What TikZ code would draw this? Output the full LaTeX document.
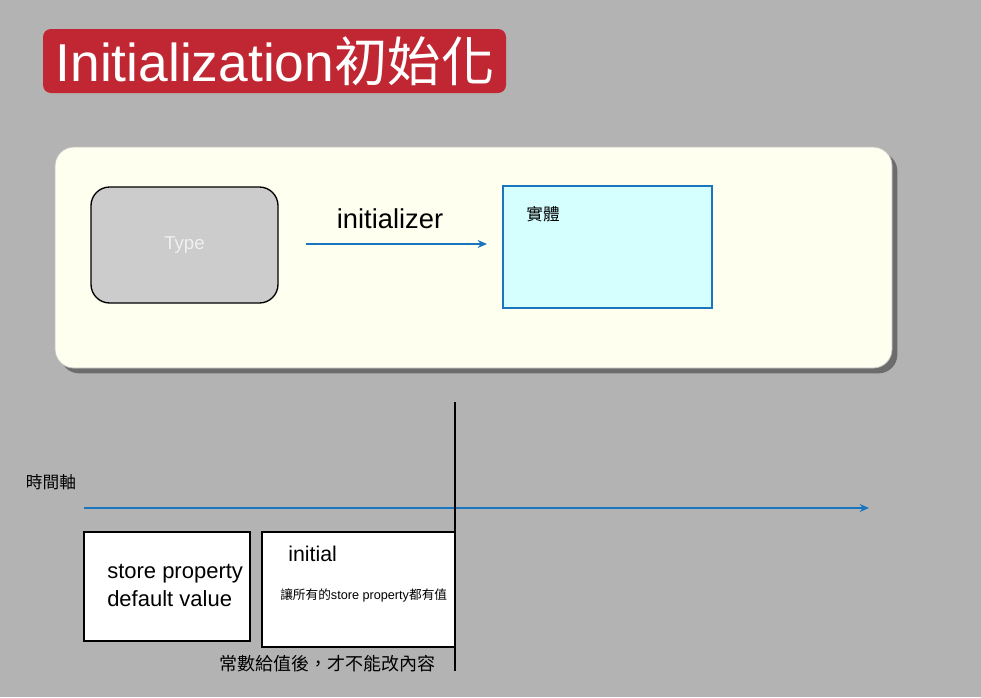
\documentclass[tikz,border=0pt]{standalone}
\usepackage{fontspec}
\setmainfont{Liberation Sans}
\newfontfamily\cjk{Noto Sans CJK TC}
\usetikzlibrary{shadows,arrows.meta}
\definecolor{bggray}{RGB}{179,179,179}
\definecolor{titlered}{RGB}{192,39,51}
\definecolor{panelcream}{RGB}{255,255,240}
\definecolor{typegray}{RGB}{204,204,204}
\definecolor{arrowblue}{RGB}{24,117,190}
\definecolor{instcyan}{RGB}{213,255,255}
\tikzset{
  bluearrow/.style={draw=arrowblue, line width=1.1pt, -{Stealth[length=7pt,width=6pt]}},
  whitebox/.style={draw=black, line width=1pt, fill=white},
}
\begin{document}
\begin{tikzpicture}[x=0.75pt,y=-0.75pt]
\useasboundingbox (0,0) rectangle (981,697);
\fill[bggray] (0,0) rectangle (981,697);
% title
\node (titlebox) [fill=titlered, rounded corners=6pt, minimum width=463*0.75pt, minimum height=64*0.75pt, inner sep=0pt] at (274.5,61) {};
\node (title) [text=white, font=\fontsize{40}{44}\selectfont, inner sep=0pt, anchor=center] at (275,61) {Initialization{\cjk 初始化}};
% panel
\node (panel) [fill=panelcream, draw=black!25, line width=0.6pt, rounded corners=14pt, minimum width=837*0.75pt, minimum height=221*0.75pt, inner sep=0pt, drop shadow={shadow xshift=4pt, shadow yshift=-4pt, opacity=0.5, fill=black!85}] at (473.5,257.5) {};
% Type
\node (type) [fill=typegray, draw=black, line width=1pt, rounded corners=14pt, minimum width=187*0.75pt, minimum height=116*0.75pt, inner sep=0pt, text=white!94!black, font=\fontsize{14}{16}\selectfont] at (184.5,245) {Type};
% instance
\node (inst) [fill=instcyan, draw=arrowblue, line width=1pt, minimum width=209*0.75pt, minimum height=122*0.75pt, inner sep=0pt] at (607.5,247) {};
\node (instlabel) [font=\cjk\fontsize{12.5}{14}\selectfont, inner sep=0pt] at (543,214) {實體};
% initializer arrow
\coordinate (ia) at (306,244);
\coordinate (ib) at (487,244);
\draw[bluearrow] (ia) -- (ib);
\node (initlabel) [font=\fontsize{20.5}{22}\selectfont, inner sep=0pt] at (390,219) {initializer};
% timeline
\node (timelabel) [font=\cjk\fontsize{12.5}{14}\selectfont, inner sep=0pt] at (51,482) {時間軸};
\coordinate (ta) at (84,508);
\coordinate (tb) at (869,508);
\draw[bluearrow] (ta) -- (tb);
% boxes
\node (box1) [whitebox, minimum width=166*0.75pt, minimum height=109*0.75pt, inner sep=0pt] at (167,586.5) {};
\node (box1text) [font=\fontsize{16.5}{21}\selectfont, align=left, anchor=north west, inner sep=0pt] at (107,564) {store property\\default value};
\node (box2) [whitebox, minimum width=193*0.75pt, minimum height=115*0.75pt, inner sep=0pt] at (358.5,589.5) {};
\node (box2title) [font=\fontsize{16}{18}\selectfont, anchor=west, inner sep=0pt] at (288,554) {initial};
\node (box2text) [font=\fontsize{9.5}{11}\selectfont, anchor=west, inner sep=0pt] at (280,595) {{\cjk 讓所有的}store property{\cjk 都有值}};
% vertical line
\coordinate (va) at (455,402);
\coordinate (vb) at (455,671);
\draw[black, line width=1.3pt] (va) -- (vb);
\node (note) [font=\cjk\fontsize{13.5}{15}\selectfont, inner sep=0pt] at (327.5,664) {常數給值後，才不能改內容};
\end{tikzpicture}
\end{document}
